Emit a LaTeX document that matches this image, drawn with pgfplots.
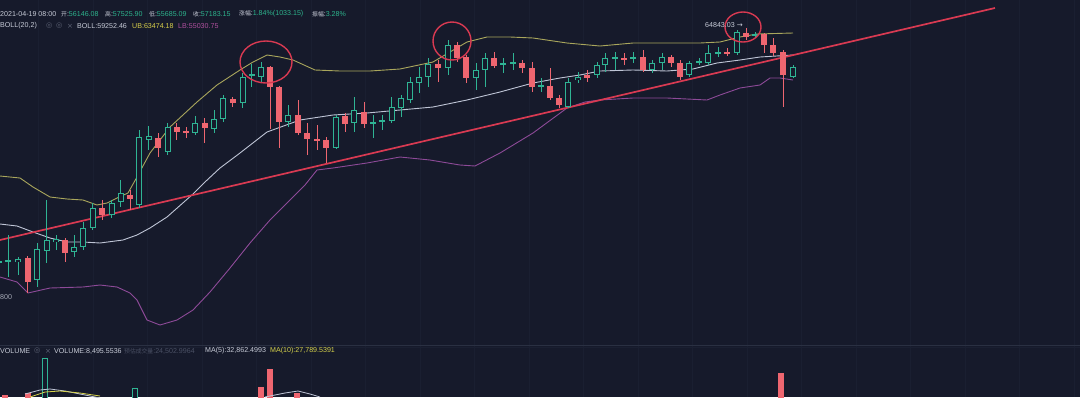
\documentclass[border=0pt]{standalone}
\usepackage{pgfplots}
\pgfplotsset{compat=1.18}
\usepackage{pgfplotstable}
\usepackage{fontspec}
\setmainfont{Liberation Sans}
\newfontfamily\cjk[Scale=0.82]{Noto Sans CJK SC}
\newfontfamily\dv{DejaVu Sans}
\definecolor{bg}{HTML}{161A2B}
\definecolor{gridc}{HTML}{1A1F31}
\definecolor{sepc}{HTML}{2A3042}
\definecolor{cgreen}{HTML}{2FB494}
\definecolor{cred}{HTML}{EE6670}
\definecolor{trend}{HTML}{D93A52}
\definecolor{ub}{HTML}{A9A65C}
\definecolor{mb}{HTML}{BFC5D6}
\definecolor{lb}{HTML}{8D4A98}
\definecolor{txtc}{HTML}{C8CCD8}
\definecolor{valg}{HTML}{2DB38C}
\definecolor{dimc}{HTML}{4A5064}
\definecolor{iconc}{HTML}{5C6274}
\definecolor{ubt}{HTML}{D8CF4A}
\definecolor{lbt}{HTML}{B0509E}
\definecolor{ma10}{HTML}{D6D24A}
\tikzset{txt/.style={font=\fontsize{7.1}{8}\selectfont, inner sep=0pt, anchor=west}}

% candles: x, body top, body bottom, high, low (pixel rows from the top)
\pgfplotstableread{
x top bot hi lo
-1 261 263 256 268
8.3 260 262 235 277
18 259 262 257 275
37.3 249 280 243 287
46.7 240 251 200 263
56 239 242 235 250
74 247 252 235 257
83.3 228 247 222 250
92.7 208 228 203 230
111.7 203 215 200 218
120.7 193 202 180 207
139 137 205 130 208
148.5 136 140 126 150
167.7 127 152 123 155
195 123 133 116 135
214 119 129 110 133
223 98 119 95 122
242.5 77 103 73 108
251.7 74 76 64 87
261 67 77 62 83
288 115 122 105 127
336 117 148 115 149
354 110 123 97 132
373 122 123 115 138
382 120 122 115 130
391.5 107 121 97 123
401 98 108 95 117
410 82 100 77 103
419 77 83 67 93
428 64 77 58 87
448 45 68 40 75
476 70 78 63 90
485 58 70 53 87
503 63 65 58 73
513 62 64 53 70
541 85 87 78 92
568 82 107 78 108
578 77 80 72 83
597 65 75 62 78
605 58 65 53 72
615 57 59 52 70
633 57 59 52 63
652 63 70 60 73
662 57 63 53 70
689 63 75 61 77
699 61 63 58 65
708 53 63 45 65
718 52 54 47 57
737 32 53 30 55
755 34 36 32 38
793 67 77 65 78
}\greentab

\pgfplotstableread{
x top bot hi lo
27.7 258 282 256 293
65 240 253 238 262
102 208 215 200 220
130 195 199 190 210
158 138 148 133 157
176.7 127 132 123 140
186 131 133 127 138
204.5 123 128 118 143
232.5 99 103 97 107
270 67 87 66 129
279 87 122 86 148
298 115 133 100 135
307 133 139 123 155
317 139 140 125 150
326 140 148 137 163
345 116 124 113 132
364 112 124 102 128
438 64 68 60 82
457 45 58 42 62
466 57 78 55 83
494 58 66 52 68
522 63 68 60 73
532 68 87 62 92
550 86 98 68 100
559 98 105 95 108
587 75 78 70 82
624 58 59 53 65
643 57 70 50 72
671 57 63 55 67
680 63 77 60 80
727 52 54 48 56
746 33 37 28 40
764 34 45 33 53
773 45 53 38 56
783 52 75 50 107
}\redtab

\pgfplotstableread{
x top
45 358
135 388
}\vgreen
\pgfplotstableread{
x top
5 395
28 393
261 387
270 369
297 393
781 373
}\vred

\begin{document}
\begin{tikzpicture}
\fill[bg] (0,0) rectangle (1080pt,397pt);
\begin{axis}[at={(0,0)}, anchor=south west,
  width=1080pt, height=397pt, scale only axis,
  xmin=0, xmax=1080, ymin=0, ymax=397, y dir=reverse,
  axis lines=none, clip=true]

% vertical grid
\pgfplotsinvokeforeach{38.5,93,147.5,202,256.5,311,365.5,420,474.5,529,583.5,638,692.5,747,801.5,856,910.5,965,1019.5,1074}{
  \addplot[gridc, line width=0.7pt, forget plot] coordinates {(#1,0) (#1,397)};
}
% pane separator
\addplot[sepc, line width=0.8pt, forget plot] coordinates {(0,345) (1080,345)};
\addplot[gridc, line width=0.6pt, forget plot] coordinates {(0,347.5) (1080,347.5)};

% Bollinger bands
\addplot[ub, line width=0.9pt, forget plot] coordinates {
(0,176) (20,178) (33,187) (50,197) (67,199) (83,200) (97,205) (107,203) (117,198) (128,193) (137,177) (150,153) (170,127) (197,102) (217,85) (240,70) (253,62) (267,55) (280,57) (293,60) (315,70) (340,71) (370,71) (400,69) (433,62) (450,52) (467,42) (487,37) (510,37) (533,38) (567,43) (600,46) (633,43) (667,43) (700,43) (720,42) (740,37) (757,34) (793,33)};
\addplot[mb, line width=0.9pt, forget plot] coordinates {
(0,224) (17,226) (33,232) (50,238) (67,242) (83,242) (100,243) (123,240) (137,235) (150,228) (167,217) (193,194) (205,182) (220,168) (240,153) (267,132) (300,120) (333,115) (367,113) (400,110) (433,107) (467,100) (500,92) (533,83) (560,78) (580,75) (600,71) (633,70) (667,71) (693,69) (717,63) (740,60) (760,57) (793,55)};
\addplot[lb, line width=0.9pt, forget plot] coordinates {
(0,277) (17,282) (28,293) (50,288) (83,287) (100,285) (117,287) (130,293) (137,300) (147,320) (160,325) (177,320) (193,310) (210,292) (230,268) (250,243) (270,220) (290,200) (305,185) (317,170) (333,168) (367,163) (400,157) (430,160) (460,165) (475,166) (500,153) (533,133) (567,108) (585,102) (600,100) (633,98) (667,98) (707,100) (720,95) (740,88) (760,85) (770,78) (780,78) (793,80)};

% trend line
\addplot[trend, line width=1.7pt, forget plot] coordinates {(0,240) (995,8)};

% wicks
\addplot[draw=none, mark=none, forget plot,
  error bars/.cd, y dir=both, y explicit, error mark=none,
  error bar style={draw=cgreen, line width=1pt}]
  table[x=x, y expr={(\thisrow{hi}+\thisrow{lo})/2}, y error expr={(\thisrow{lo}-\thisrow{hi})/2}] {\greentab};
\addplot[draw=none, mark=none, forget plot,
  error bars/.cd, y dir=both, y explicit, error mark=none,
  error bar style={draw=cred, line width=1pt}]
  table[x=x, y expr={(\thisrow{hi}+\thisrow{lo})/2}, y error expr={(\thisrow{lo}-\thisrow{hi})/2}] {\redtab};

% green hollow bodies
\addplot[draw=none, mark=none, forget plot,
  error bars/.cd, y dir=both, y explicit, error mark=none,
  error bar style={draw=cgreen, line width=6pt}]
  table[x=x, y expr={(\thisrow{top}+\thisrow{bot})/2}, y error expr={max((\thisrow{bot}-\thisrow{top})/2,0.6)}] {\greentab};
\addplot[draw=none, mark=none, forget plot,
  error bars/.cd, y dir=both, y explicit, error mark=none,
  error bar style={draw=bg, line width=4pt}]
  table[x=x, y expr={(\thisrow{top}+\thisrow{bot})/2}, y error expr={max((\thisrow{bot}-\thisrow{top})/2-1,0)}] {\greentab};
% red filled bodies
\addplot[draw=none, mark=none, forget plot,
  error bars/.cd, y dir=both, y explicit, error mark=none,
  error bar style={draw=cred, line width=6pt}]
  table[x=x, y expr={(\thisrow{top}+\thisrow{bot})/2}, y error expr={max((\thisrow{bot}-\thisrow{top})/2,0.6)}] {\redtab};

% volume bars
\addplot[draw=none, mark=none, forget plot,
  error bars/.cd, y dir=both, y explicit, error mark=none,
  error bar style={draw=cgreen, line width=6pt}]
  table[x=x, y expr={(\thisrow{top}+400)/2}, y error expr={(400-\thisrow{top})/2}] {\vgreen};
\addplot[draw=none, mark=none, forget plot,
  error bars/.cd, y dir=both, y explicit, error mark=none,
  error bar style={draw=bg, line width=4pt}]
  table[x=x, y expr={(\thisrow{top}+401)/2}, y error expr={(401-\thisrow{top})/2-1}] {\vgreen};
\addplot[draw=none, mark=none, forget plot,
  error bars/.cd, y dir=both, y explicit, error mark=none,
  error bar style={draw=cred, line width=6pt}]
  table[x=x, y expr={(\thisrow{top}+400)/2}, y error expr={(400-\thisrow{top})/2}] {\vred};

% volume moving averages
\addplot[mb, line width=0.8pt, forget plot] coordinates {(25,394) (40,390) (50,389) (65,391) (85,395) (100,398)};
\addplot[ma10, line width=0.8pt, forget plot] coordinates {(30,397) (45,392) (60,391) (80,393) (100,396)};
\addplot[mb, line width=0.8pt, forget plot] coordinates {(265,397) (285,393) (298,391) (310,394) (320,397)};

% annotation circles
\draw[trend, line width=1.4pt] (axis cs:266,62) ellipse [x radius=26pt, y radius=21pt];
\draw[trend, line width=1.4pt] (axis cs:452,41) ellipse [x radius=19pt, y radius=19pt];
\draw[trend, line width=1.4pt] (axis cs:743,27) ellipse [x radius=18pt, y radius=15pt];

% header line 1
\node[txt, text=txtc] at (axis cs:0,14) {2021-04-19 08:00};
\node[txt, text=txtc] at (axis cs:61,14) {{\cjk 开}:\textcolor{valg}{56146.08}};
\node[txt, text=txtc] at (axis cs:105,14) {{\cjk 高}:\textcolor{valg}{57525.90}};
\node[txt, text=txtc] at (axis cs:149,14) {{\cjk 低}:\textcolor{valg}{55685.09}};
\node[txt, text=txtc] at (axis cs:193,14) {{\cjk 收}:\textcolor{valg}{57183.15}};
\node[txt, text=txtc] at (axis cs:239,14) {{\cjk 涨幅}:\textcolor{valg}{1.84\%(1033.15)}};
\node[txt, text=txtc] at (axis cs:312,14) {{\cjk 振幅}:\textcolor{valg}{3.28\%}};
% header line 2
\node[txt, text=txtc] at (axis cs:0,26) {BOLL(20,2)};
\node[txt, text=iconc] at (axis cs:46,26) {{\dv ◎}};
\node[txt, text=iconc] at (axis cs:56,26) {{\dv ◎}};
\node[txt, text=iconc] at (axis cs:67,26) {{\dv ×}};
\node[txt, text=txtc] at (axis cs:77,26) {BOLL:59252.46};
\node[txt, text=ubt] at (axis cs:132,26) {UB:63474.18};
\node[txt, text=lbt] at (axis cs:178,26) {LB:55030.75};
% price labels
\node[txt, text=txtc] at (axis cs:705,25) {64843.03 {\dv →}};
\node[txt, text=txtc!80!bg] at (axis cs:0,297) {800};
% volume header
\node[txt, text=txtc] at (axis cs:0,351) {VOLUME};
\node[txt, text=iconc] at (axis cs:34,351) {{\dv ◎}};
\node[txt, text=iconc] at (axis cs:45,351) {{\dv ×}};
\node[txt, text=txtc] at (axis cs:54,351) {VOLUME:8,495.5536};
\node[txt, text=dimc] at (axis cs:124,351) {{\cjk 预估成交量}:24,502.9964};
\node[txt, text=txtc] at (axis cs:205,351) {MA(5):32,862.4993};
\node[txt, text=ma10] at (axis cs:270,351) {MA(10):27,789.5391};
\end{axis}
\pgfresetboundingbox
\path[use as bounding box] (0,0) rectangle (1080pt,397pt);
\end{tikzpicture}
\end{document}
